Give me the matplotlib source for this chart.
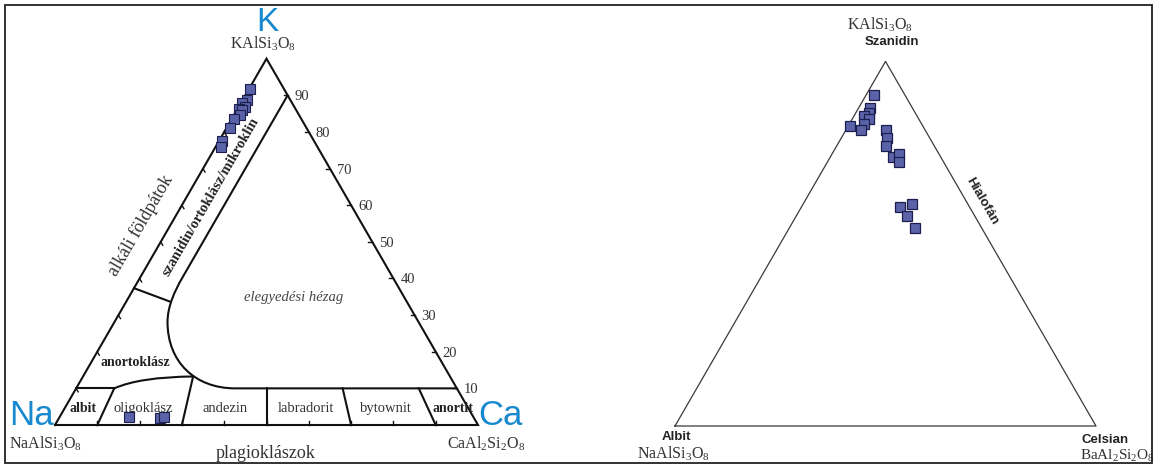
import numpy as np
import matplotlib
matplotlib.use("Agg")
import matplotlib.pyplot as plt
from matplotlib.path import Path
from matplotlib.patches import PathPatch, Rectangle

plt.rcParams["mathtext.fontset"] = "custom"
plt.rcParams["mathtext.rm"] = "Liberation Serif"
plt.rcParams["mathtext.it"] = "Liberation Serif:italic"
plt.rcParams["mathtext.bf"] = "Liberation Serif:bold"

SERIF = "Liberation Serif"
SANS = "Liberation Sans"

# ---------------- data ----------------
# Or-Ab-An diagram: alkali feldspars (fraction Or = K, fraction An = Ca)
alk_or = [0.917, 0.886, 0.878, 0.868, 0.862, 0.860, 0.847, 0.834, 0.812, 0.775, 0.760]
alk_an = [0.003, 0.012, 0.002, 0.014, 0.005, 0.013, 0.013, 0.006, 0.008, 0.007, 0.013]
# plagioclases
plg_or = [0.021, 0.018, 0.023]
plg_an = [0.165, 0.240, 0.246]

# Or-Ab-Cn diagram (fraction Or = K, fraction Cn = Ba)
cn_or = [0.907, 0.872, 0.859, 0.850, 0.843, 0.829, 0.822, 0.813, 0.813,
         0.789, 0.768, 0.738, 0.745, 0.723, 0.602, 0.609, 0.576, 0.543]
cn_cn = [0.018, 0.027, 0.032, 0.023, 0.040, 0.035, 0.005, 0.035, 0.094,
         0.110, 0.116, 0.150, 0.160, 0.171, 0.234, 0.259, 0.262, 0.299]

# plagioclase series limits (An fraction along the Ab-An join)
plag_limits = [0.1, 0.3, 0.5, 0.7, 0.9]
plag_names = ["albit", "oligoklász", "andezin", "labradorit", "bytownit", "anortit"]
plag_label_an = [0.043, 0.186, 0.379, 0.571, 0.758, 0.918]
plag_bold = [True, False, False, False, False, True]
or_ticks = [10, 20, 30, 40, 50, 60, 70, 80, 90]

# miscibility-gap (solvus) outline as (Or, An) control points
solvus_ctrl = [(0.90, 0.100), (0.40, 0.100),
               (0.365, 0.100), (0.3224, 0.1048), (0.2814, 0.1253),
               (0.1721, 0.1799), (0.1003, 0.2809), (0.100, 0.3754),
               (0.100, 0.900)]
solvus_codes = [Path.MOVETO, Path.LINETO,
                Path.CURVE4, Path.CURVE4, Path.CURVE4,
                Path.CURVE4, Path.CURVE4, Path.CURVE4,
                Path.LINETO]
# anorthoclase / plagioclase boundary
anor_ctrl = [(0.100, 0.090), (0.1311, 0.1354), (0.1325, 0.260)]
# alkali feldspar / anorthoclase boundary
alk_div = [(0.3735, 0.0), (0.337, 0.103)]

BLUE = "#1889cf"
MFC = "#5a62a8"
MEC = "#1c1f4e"
GRAY = "#333333"


def tern(k, c):
    k = np.asarray(k, float)
    c = np.asarray(c, float)
    return c + k / 2.0, k * np.sqrt(3) / 2.0


def pt(dx, dy):
    # pixel offsets (x right, y up) -> points at 100 dpi
    return (dx * 0.72, dy * 0.72)


fig = plt.figure(figsize=(11.56, 4.66), dpi=100)

# ---------------- left: K - Na - Ca ----------------
axL = fig.add_axes([0, 0, 580 / 1156, 1])
S = 423.0
axL.set_xlim(-55 / S, 525 / S)
axL.set_ylim(-41 / S, 425 / S)
axL.axis("off")

LW = 1.5
tri_x, tri_y = tern([0, 1, 0, 0], [0, 0, 1, 0])
axL.plot(tri_x, tri_y, color="#111111", lw=LW, solid_joinstyle="miter", zorder=2)

verts = [tuple(np.ravel(tern(k, c))) for k, c in solvus_ctrl]
axL.add_patch(PathPatch(Path(verts, solvus_codes), fill=False, lw=LW, ec="#111111", zorder=2))
verts = [tuple(np.ravel(tern(k, c))) for k, c in anor_ctrl]
axL.add_patch(PathPatch(Path(verts, [Path.MOVETO, Path.CURVE3, Path.CURVE3]),
                        fill=False, lw=LW, ec="#111111", zorder=2))
xs, ys = tern([0.1, 0.1], [0.0, 0.09])
axL.plot(xs, ys, color="#111111", lw=LW, zorder=2)
xs, ys = tern([p[0] for p in alk_div], [p[1] for p in alk_div])
axL.plot(xs, ys, color="#111111", lw=LW, zorder=2)
for r in plag_limits:
    ktop = 0.1325 if r == 0.3 else 0.1
    xs, ys = tern([0.0, ktop], [r, r * (1 - ktop)])
    axL.plot(xs, ys, color="#111111", lw=LW, zorder=2)

# ticks
L = 4 / S
for v in or_ticks:
    f = v / 100
    x0, y0 = tern(f, 1 - f)
    axL.plot([x0, x0 - L], [y0, y0], color="#111111", lw=1.0)
    axL.annotate(str(v), (x0, y0), xytext=pt(7, 0), textcoords="offset points",
                 ha="left", va="center_baseline", fontsize=10.5, family=SERIF, color=GRAY)
    x1, y1 = tern(f, 0)
    axL.plot([x1, x1 + 0.5 * L], [y1, y1 - 0.866 * L], color="#111111", lw=1.0)
    x2, y2 = tern(0, f)
    axL.plot([x2, x2], [y2, y2 + L], color="#111111", lw=1.0)

# data
x, y = tern(alk_or, alk_an)
axL.plot(x, y, "s", ms=6.8, mfc=MFC, mec=MEC, mew=0.8, ls="none", zorder=4)
x, y = tern(plg_or, plg_an)
axL.plot(x, y, "s", ms=6.8, mfc=MFC, mec=MEC, mew=0.8, ls="none", zorder=4)

# vertex labels
kx, ky = tern(1, 0)
axL.annotate("K", (kx, ky), xytext=pt(1, 28), textcoords="offset points", ha="center",
             va="baseline", fontsize=24, family=SANS, color=BLUE)
axL.annotate(r"$\mathrm{KAlSi_3O_8}$", (kx, ky), xytext=pt(-4, 10), textcoords="offset points",
             ha="center", va="baseline", fontsize=11.5, color=GRAY)
nx, ny = tern(0, 0)
axL.annotate("Na", (nx, ny), xytext=pt(-1, 0), textcoords="offset points", ha="right",
             va="baseline", fontsize=25, family=SANS, color=BLUE, zorder=6)
axL.annotate(r"$\mathrm{NaAlSi_3O_8}$", (nx, ny), xytext=pt(-10, -24), textcoords="offset points",
             ha="center", va="baseline", fontsize=11.5, color=GRAY)
cx, cy = tern(0, 1)
axL.annotate("Ca", (cx, cy), xytext=pt(0, 0), textcoords="offset points", ha="left",
             va="baseline", fontsize=25, family=SANS, color=BLUE, zorder=6)
axL.annotate(r"$\mathrm{CaAl_2Si_2O_8}$", (cx, cy), xytext=pt(8, -24), textcoords="offset points",
             ha="center", va="baseline", fontsize=11.5, color=GRAY)
bx, by = tern(0, 0.5)
axL.annotate("plagioklászok", (bx, by), xytext=pt(-1, -33), textcoords="offset points",
             ha="center", va="baseline", fontsize=13, family=SERIF, color=GRAY)

# field labels
tx, ty = tern(0.5437, -0.0686)
axL.text(tx, ty, "alkáli földpátok", rotation=60, rotation_mode="anchor", ha="center",
         va="center", fontsize=13, family=SERIF, color=GRAY)
tx, ty = tern(0.623, 0.0573)
axL.text(tx, ty, "szanidin/ortoklász/mikroklin", rotation=60, rotation_mode="anchor",
         ha="center", va="center", fontsize=10.5, family=SERIF, weight="bold", color="#222222")
tx, ty = tern(0.347, 0.3915)
axL.text(tx, ty, "elegyedési hézag", ha="center", va="center", fontsize=10.5,
         family=SERIF, style="italic", color="#444444")
tx, ty = tern(0.1694, 0.1044)
axL.text(tx, ty, "anortoklász", ha="center", va="center", fontsize=10,
         family=SERIF, weight="bold", color="#222222")
for name, a, b in zip(plag_names, plag_label_an, plag_bold):
    tx, ty = tern(0.0464, a)
    axL.text(tx, ty, name, ha="center", va="center", fontsize=10.5 if not b else 10,
             family=SERIF, weight="bold" if b else "normal",
             color="#222222" if b else GRAY, zorder=3)

# ---------------- right: K - Na - Ba ----------------
axR = fig.add_axes([580 / 1156, 0, 576 / 1156, 1])
S2 = 421.0
axR.set_xlim(-95 / S2, 481 / S2)
axR.set_ylim(-40 / S2, 426 / S2)
axR.axis("off")

tri_x, tri_y = tern([0, 1, 0, 0], [0, 0, 1, 0])
axR.plot(tri_x, tri_y, color="#3a3a3a", lw=0.9, zorder=2)
x, y = tern(cn_or, cn_cn)
axR.plot(x, y, "s", ms=7.8, mfc=MFC, mec=MEC, mew=0.9, ls="none", zorder=4)

kx, ky = tern(1, 0)
axR.annotate(r"$\mathrm{KAlSi_3O_8}$", (kx, ky), xytext=pt(-6, 32), textcoords="offset points",
             ha="center", va="baseline", fontsize=11.5, color=GRAY)
axR.annotate("Szanidin", (kx, ky), xytext=pt(6, 16), textcoords="offset points",
             ha="center", va="baseline", fontsize=9.5, family=SANS, weight="bold", color="#222222")
nx, ny = tern(0, 0)
axR.annotate("Albit", (nx, ny), xytext=pt(1, -14), textcoords="offset points",
             ha="center", va="baseline", fontsize=9.5, family=SANS, weight="bold", color="#222222")
axR.annotate(r"$\mathrm{NaAlSi_3O_8}$", (nx, ny), xytext=pt(-2, -33), textcoords="offset points",
             ha="center", va="baseline", fontsize=11.5, color=GRAY)
bx, by = tern(0, 1)
axR.annotate("Celsian", (bx, by), xytext=pt(9, -17), textcoords="offset points",
             ha="center", va="baseline", fontsize=9.5, family=SANS, weight="bold", color="#222222")
axR.annotate(r"$\mathrm{BaAl_2Si_2O_8}$", (bx, by), xytext=pt(-16, -34), textcoords="offset points",
             ha="left", va="baseline", fontsize=11, color=GRAY)
tx, ty = tern(0.616, 0.421)
axR.text(tx, ty, "Hialofán", rotation=-60, rotation_mode="anchor", ha="center", va="center",
         fontsize=9.5, family=SANS, weight="bold", color="#222222")

# outer frame
fig.add_artist(Rectangle((5 / 1156, 3 / 466), 1147 / 1156, 458 / 466, transform=fig.transFigure,
                         fill=False, ec="#222222", lw=1.3, zorder=10))

fig.savefig("out.png", dpi=100, facecolor="white")
